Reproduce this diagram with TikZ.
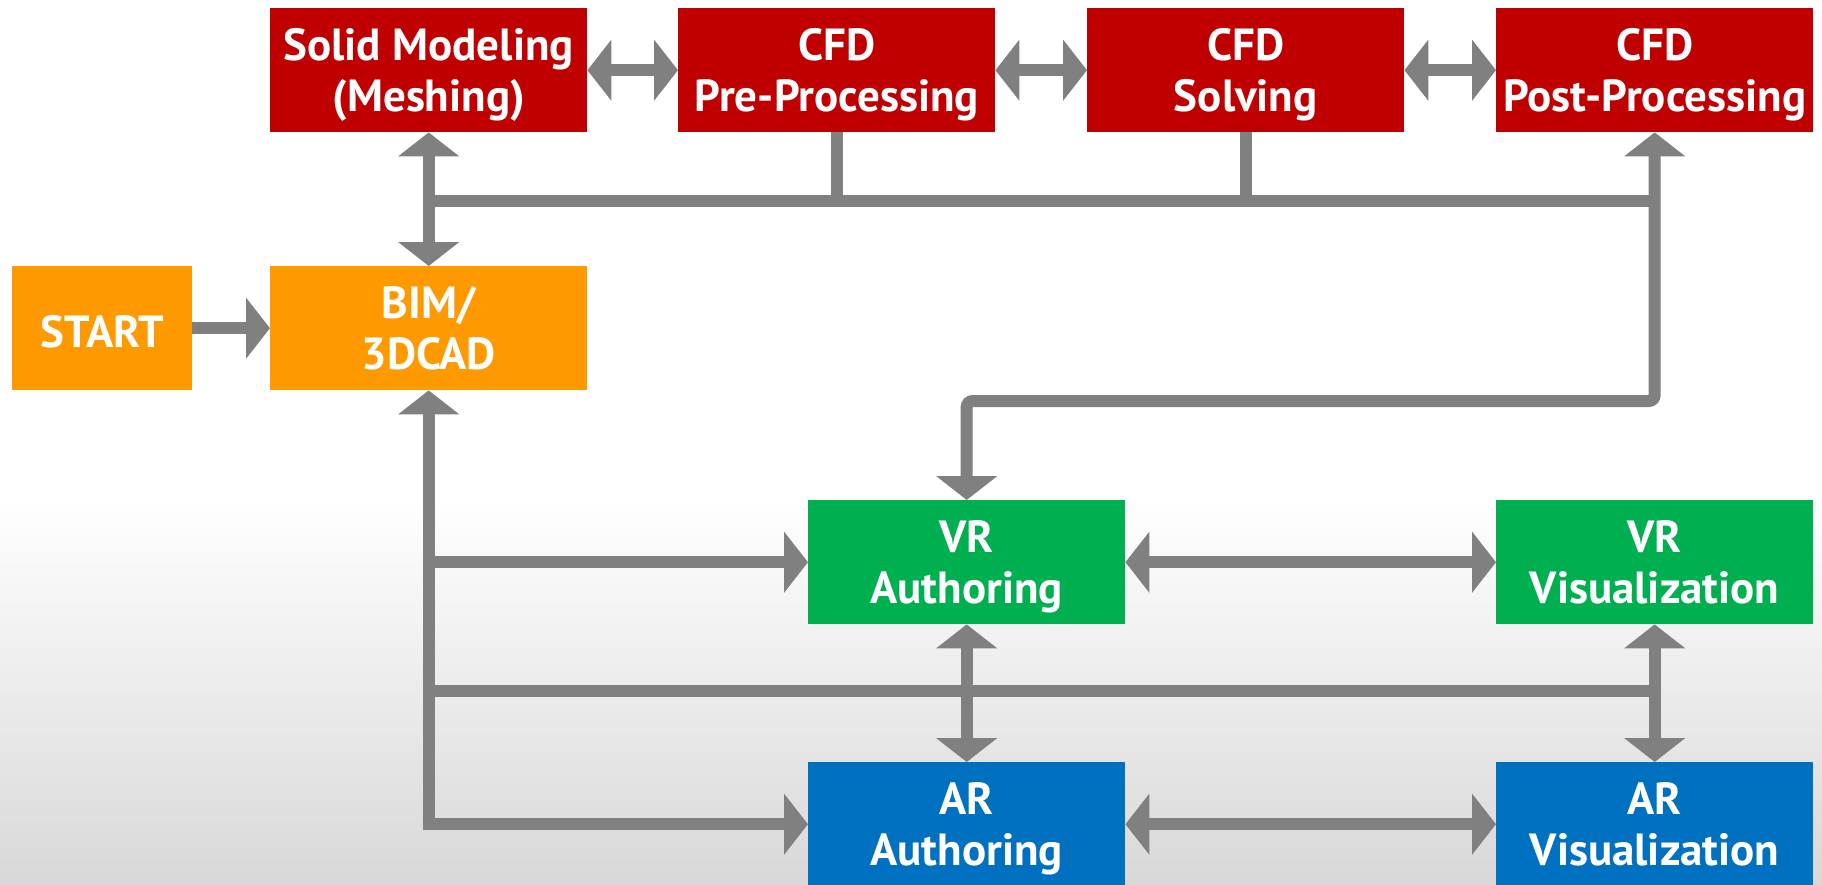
\documentclass[tikz,border=0pt]{standalone}
\usepackage{fontspec}
\setmainfont{PT Sans}
\usetikzlibrary{arrows.meta}

\definecolor{cfdred}{HTML}{C00000}
\definecolor{bimorange}{HTML}{FF9900}
\definecolor{vrgreen}{HTML}{00B050}
\definecolor{arblue}{HTML}{0070C0}
\definecolor{linkgray}{HTML}{808080}
\definecolor{bggray}{HTML}{D8D8D8}

\begin{document}
\begin{tikzpicture}[x=1pt,y=-1pt,
	box/.style={anchor=north west,minimum width=317pt,minimum height=124pt,
		inner sep=0pt,text=white,align=center,text depth=0pt,
		font=\fontsize{45}{51}\selectfont\bfseries,
		execute at begin node={\rule{0pt}{38pt}}},
	link/.style={draw=linkgray,line width=12pt},
	tip/.style={-{Triangle[length=24pt,width=60pt]}},
	twoway/.style={{Triangle[length=24pt,width=60pt]}-{Triangle[length=24pt,width=60pt]}}]

% background
\useasboundingbox (0,0) rectangle (1822,884);
\fill[white] (0,0) rectangle (1822,500);
\shade[top color=white,bottom color=bggray] (0,500) rectangle (1822,884);

% boxes
\node[box,fill=cfdred] (solid) at (270,8) {Solid Modeling\\(Meshing)};
\node[box,fill=cfdred] (pre) at (678,8) {CFD\\Pre-Processing};
\node[box,fill=cfdred] (solve) at (1087,8) {CFD\\Solving};
\node[box,fill=cfdred] (post) at (1496,8) {CFD\\Post-Processing};
\node[box,fill=bimorange,minimum width=180pt] (start) at (12,266) {START};
\node[box,fill=bimorange] (bim) at (270,266) {BIM/\\3DCAD};
\node[box,fill=vrgreen] (vrauth) at (808,500) {VR\\Authoring};
\node[box,fill=vrgreen] (vrvis) at (1496,500) {VR\\Visualization};
\node[box,fill=arblue] (arauth) at (808,762) {AR\\Authoring};
\node[box,fill=arblue] (arvis) at (1496,762) {AR\\Visualization};

\coordinate (topbus) at (0,201);
\coordinate (turn) at (0,401);
\coordinate (lowbus) at (0,691);

% CFD chain
\draw[link,twoway] (solid) -- (pre);
\draw[link,twoway] (pre) -- (solve);
\draw[link,twoway] (solve) -- (post);
\draw[link,twoway] (solid) -- (bim);
\draw[link] (solid.south |- topbus) -- (post.south |- topbus);
\draw[link] (pre.south) -- (pre.south |- topbus);
\draw[link] (solve.south) -- (solve.south |- topbus);
\draw[link,twoway,rounded corners=6pt] (post.south) -- (post.south |- turn)
	-- (vrauth.north |- turn) -- (vrauth.north);

% BIM to VR / AR
\draw[link,tip] (start) -- (bim);
\draw[link,twoway] (bim.south) -- (bim.south |- arauth.west) -- (arauth.west);
\draw[link,tip] (bim.south |- vrauth.west) -- (vrauth.west);
\draw[link] (bim.south |- lowbus) -- (vrvis.south |- lowbus);
\draw[link,twoway] (vrvis) -- (arvis);
\draw[link,twoway] (vrauth) -- (arauth);
\draw[link,twoway] (vrauth) -- (vrvis);
\draw[link,twoway] (arauth) -- (arvis);
\end{tikzpicture}
\end{document}
